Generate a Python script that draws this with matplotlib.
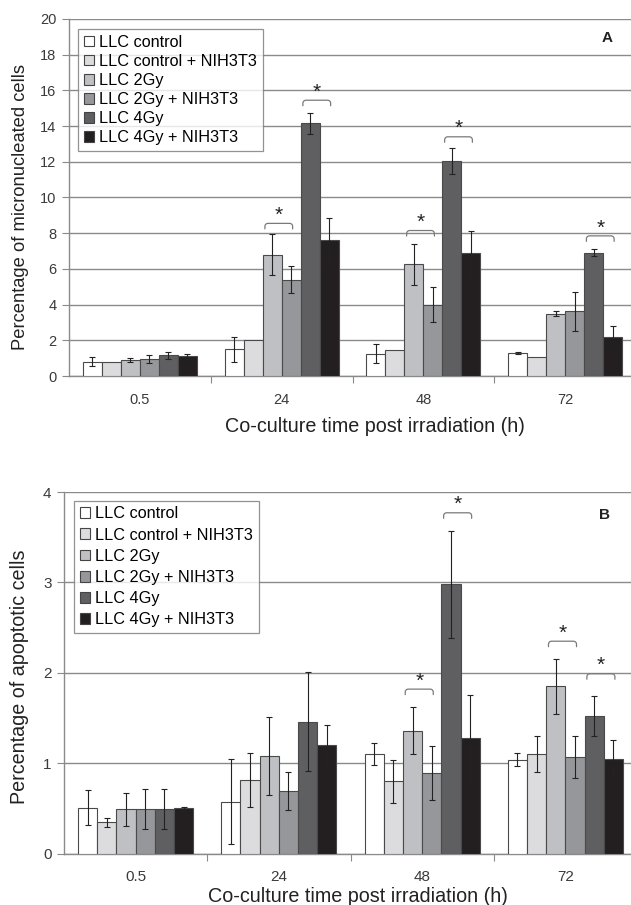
import matplotlib
matplotlib.use("Agg")
import matplotlib.pyplot as plt
from matplotlib.patches import Patch
import numpy as np

plt.rcParams['font.family'] = ['Liberation Sans', 'DejaVu Sans']

times = ["0.5", "24", "48", "72"]
series = ["LLC control", "LLC control + NIH3T3", "LLC 2Gy",
          "LLC 2Gy + NIH3T3", "LLC 4Gy", "LLC 4Gy + NIH3T3"]
colors = ["#ffffff", "#dcdcde", "#bfc0c3", "#96979a", "#5f5f62", "#231f20"]

# Panel A: micronucleated cells (%), rows = series, cols = times
mn_vals = [
    [0.80, 1.50, 1.25, 1.27],
    [0.80, 2.00, 1.45, 1.06],
    [0.90, 6.80, 6.25, 3.50],
    [0.95, 5.40, 4.00, 3.62],
    [1.15, 14.15, 12.05, 6.90],
    [1.10, 7.60, 6.90, 2.20],
]
mn_err = [
    [0.25, 0.70, 0.52, 0.05],
    [0.00, 0.00, 0.00, 0.00],
    [0.12, 1.15, 1.17, 0.15],
    [0.20, 0.75, 1.00, 1.10],
    [0.20, 0.60, 0.75, 0.20],
    [0.15, 1.23, 1.25, 0.60],
]
# (time index, first series, second series, bracket level)
mn_sig = [(1, 2, 3, 8.55), (1, 4, 5, 15.45), (2, 2, 3, 8.15), (2, 4, 5, 13.4), (3, 4, 5, 7.85)]

# Panel B: apoptotic cells (%)
ap_vals = [
    [0.51, 0.575, 1.10, 1.04],
    [0.35, 0.815, 0.80, 1.10],
    [0.49, 1.08, 1.36, 1.85],
    [0.49, 0.69, 0.89, 1.07],
    [0.49, 1.46, 2.98, 1.52],
    [0.50, 1.20, 1.28, 1.05],
]
ap_err = [
    [0.19, 0.47, 0.12, 0.07],
    [0.05, 0.30, 0.24, 0.20],
    [0.18, 0.43, 0.26, 0.30],
    [0.22, 0.21, 0.30, 0.23],
    [0.22, 0.55, 0.59, 0.22],
    [0.02, 0.22, 0.48, 0.21],
]
ap_sig = [(2, 2, 3, 1.82), (2, 4, 5, 3.77), (3, 2, 3, 2.35), (3, 4, 5, 1.99)]

fig = plt.figure(figsize=(6.31, 9.05), dpi=100)

grid_c = "#8a8a8a"
spine_c = "#8a8a8a"
bw = 0.134


def panel(ax, wpx, hpx, vals, errs, sigs, ymax, ystep, ylabel, ylab_fs, letter,
          letter_xy, legend_box, lspace, tick_fs, xlab_xy, ylab_xy):
    n = len(series)
    x = np.arange(len(times))
    offs = (np.arange(n) - (n - 1) / 2) * bw
    for i in range(n):
        e = np.array(errs[i], dtype=float)
        ax.bar(x + offs[i], vals[i], bw, color=colors[i], edgecolor="#4a4a4a",
               linewidth=0.8, zorder=3)
        mask = e > 0
        ax.errorbar((x + offs[i])[mask], np.array(vals[i])[mask], yerr=e[mask],
                    fmt="none", ecolor="#222222", elinewidth=0.8, capsize=2,
                    capthick=0.8, zorder=4)
    pxx = 4.0 / wpx
    pxy = ymax / hpx
    for (t, a, b, lev) in sigs:
        x1 = t + offs[a] - 0.38 * bw
        x2 = t + offs[b] + 0.08 * bw
        r_x, r_y = 3 * pxx, 3 * pxy
        hook = 5.5 * pxy
        ang = np.linspace(np.pi, np.pi / 2, 8)
        lx = x1 + r_x + r_x * np.cos(ang)
        ly = lev - r_y + r_y * np.sin(ang)
        ang2 = np.linspace(np.pi / 2, 0, 8)
        rx = x2 - r_x + r_x * np.cos(ang2)
        ry = lev - r_y + r_y * np.sin(ang2)
        xs = np.concatenate([[x1], lx, rx, [x2]])
        ys = np.concatenate([[lev - hook], ly, ry, [lev - hook]])
        ax.plot(xs, ys, color="#7a7a7a", lw=0.9, zorder=5, solid_capstyle="round")
        ax.text((x1 + x2) / 2, lev + 2.5 * pxy, "*", ha="center", va="baseline",
                fontsize=15, color="#222222", zorder=5)
    ax.set_xlim(-0.5, 3.5)
    ax.set_ylim(0, ymax)
    yt = np.arange(0, ymax + 0.001, ystep)
    ax.set_yticks(yt)
    ax.set_yticklabels([f"{v:g}" for v in yt], fontsize=tick_fs, color="#3a3a3a")
    ax.set_xticks([0.5, 1.5, 2.5, 3.5])
    ax.set_xticklabels([])
    ax.set_xticks(x, minor=True)
    ax.set_xticklabels(times, minor=True, fontsize=tick_fs, color="#3a3a3a")
    ax.tick_params(axis="x", which="minor", length=0, pad=12)
    ax.tick_params(axis="x", which="major", length=5, color=spine_c, direction="out")
    ax.tick_params(axis="y", length=5, color=spine_c, direction="out", pad=4)
    ax.yaxis.grid(True, color=grid_c, lw=1.0, zorder=0)
    ax.set_axisbelow(True)
    for s in ["top", "right"]:
        ax.spines[s].set_visible(False)
    for s in ["left", "bottom"]:
        ax.spines[s].set_color(spine_c)
        ax.spines[s].set_linewidth(1.0)
    ax.set_ylabel(ylabel, fontsize=ylab_fs, color="#222222")
    ax.yaxis.set_label_coords(*ylab_xy)
    ax.set_xlabel("Co-culture time post irradiation (h)", fontsize=14.2,
                  color="#222222")
    ax.xaxis.set_label_coords(*xlab_xy)
    ax.text(letter_xy[0], letter_xy[1], letter, transform=ax.transAxes, ha="center",
            va="center", fontsize=11, fontweight="bold", color="#222222")
    handles = [Patch(facecolor=colors[i], edgecolor="#444444", linewidth=0.8)
               for i in range(n)]
    leg = ax.legend(handles, series, loc="upper left", bbox_to_anchor=legend_box,
                    fontsize=11.7, frameon=True, fancybox=False, handlelength=0.65,
                    handleheight=0.65, handletextpad=0.3, labelspacing=lspace,
                    borderpad=0.35, borderaxespad=0)
    leg.get_frame().set_edgecolor("#777777")
    leg.get_frame().set_linewidth(0.9)
    leg.set_zorder(6)
    return ax


# Panel A
wA, hA = 567, 357
axA = fig.add_axes([69 / 631, 1 - 376 / 905, wA / 631, hA / 905])
panel(axA, wA, hA, mn_vals, mn_err, mn_sig, 20, 2,
      "Percentage of micronucleated cells", 13.2, "A",
      ((607 - 69) / wA, (376 - 38) / hA),
      ((78 - 69) / wA, (376 - 29) / hA), 0.25, 10.5,
      ((375 - 69) / wA, (376 - 417) / hA),
      ((29 - 69) / wA, (376 - 207.5) / hA))

# Panel B
wB, hB = 573, 361.7
axB = fig.add_axes([64 / 631, 1 - 853.7 / 905, wB / 631, hB / 905])
panel(axB, wB, hB, ap_vals, ap_err, ap_sig, 4, 1,
      "Percentage of apoptotic cells", 14.2, "B",
      ((605 - 64) / wB, (853.7 - 515) / hB),
      ((74 - 64) / wB, (853.7 - 500.7) / hB), 0.38, 11,
      ((358 - 64) / wB, (853.7 - 887) / hB),
      ((29 - 64) / wB, (853.7 - 676.5) / hB))

fig.savefig("out.png", dpi=100)
